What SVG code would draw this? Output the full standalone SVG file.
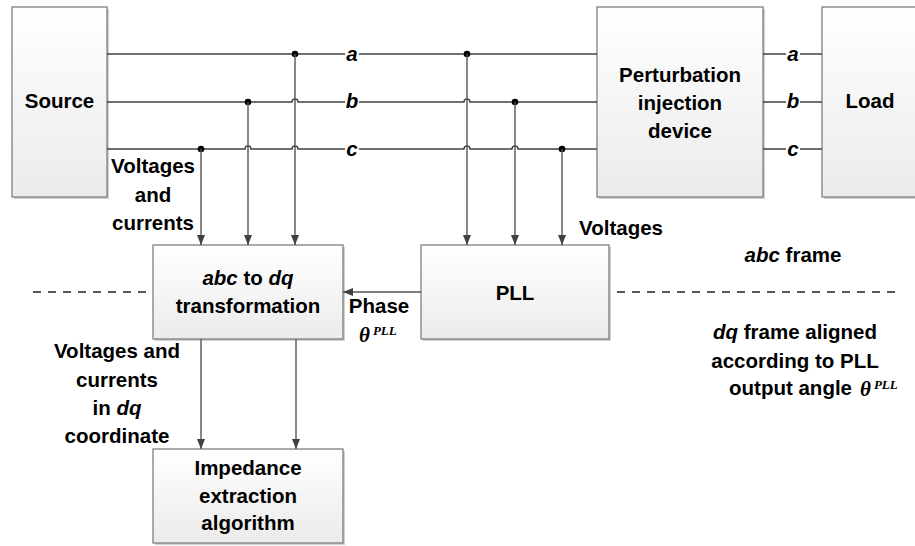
<svg xmlns="http://www.w3.org/2000/svg" width="915" height="546" viewBox="0 0 915 546">
<defs>
<linearGradient id="g" x1="0" y1="0" x2="0" y2="1">
<stop offset="0" stop-color="#ffffff"/>
<stop offset="1" stop-color="#ebebeb"/>
</linearGradient>
<marker id="arr" viewBox="0 0 10 8" refX="10" refY="4" markerWidth="10" markerHeight="8" markerUnits="userSpaceOnUse" orient="auto">
<path d="M0,0 L10,4 L0,8 Z" fill="#404040"/>
</marker>
</defs>
<style>
.box{fill:url(#g);stroke:#7f7f7f;stroke-width:1.3}
.sh{fill:#d0d0d0}
.t{font-family:"Liberation Sans",Arial,sans-serif;font-weight:bold;font-size:20.5px;fill:#000;text-anchor:middle}
.i{font-style:italic}
.w{fill:none;stroke:#404040;stroke-width:1.4}
.ar{fill:none;stroke:#555;stroke-width:1.4;marker-end:url(#arr)}
.d{fill:#000}
.th{font-family:"Liberation Serif","Times New Roman",serif;font-style:italic;font-weight:bold;fill:#000}
.dash{fill:none;stroke:#222;stroke-width:1.3;stroke-dasharray:8,7}
</style>

<g id="frame-divider">
<line class="dash" x1="33" y1="292" x2="153" y2="292"/>
<line class="dash" x1="617" y1="292" x2="897" y2="292"/>
</g>

<g id="source">
<rect class="sh" x="14" y="9" width="95" height="190"/>
<rect class="box" x="12" y="7" width="95" height="190"/>
<text class="t" x="59.5" y="108">Source</text>
</g>

<g id="perturbation">
<rect class="sh" x="599" y="9" width="166" height="190"/>
<rect class="box" x="597" y="7" width="166" height="190"/>
<text class="t" x="680" y="82">Perturbation</text>
<text class="t" x="680" y="110">injection</text>
<text class="t" x="680" y="138">device</text>
</g>

<g id="load">
<rect class="sh" x="824" y="9" width="110" height="190"/>
<rect class="box" x="822" y="7" width="110" height="190"/>
<text class="t" x="870" y="108">Load</text>
</g>

<g id="abc2dq">
<rect class="sh" x="155" y="247" width="190" height="94"/>
<rect class="box" x="153" y="245" width="190" height="94"/>
<text class="t" x="248" y="285"><tspan class="i">abc</tspan> to <tspan class="i">dq</tspan></text>
<text class="t" x="248" y="313">transformation</text>
</g>

<g id="pll">
<rect class="sh" x="423" y="247" width="188" height="94"/>
<rect class="box" x="421" y="245" width="188" height="94"/>
<text class="t" x="515" y="300">PLL</text>
</g>

<g id="impedance">
<rect class="sh" x="155" y="451" width="190" height="94"/>
<rect class="box" x="153" y="449" width="190" height="94"/>
<text class="t" x="248" y="475">Impedance</text>
<text class="t" x="248" y="503">extraction</text>
<text class="t" x="248" y="530">algorithm</text>
</g>

<g id="connectors">
<path class="w" d="M107,54 H597"/>
<path class="w" d="M107,102 H292 A3,3 0 0 1 298,102 H464 A3,3 0 0 1 470,102 H597"/>
<path class="w" d="M107,149 H245 A3,3 0 0 1 251,149 H292 A3,3 0 0 1 298,149 H464 A3,3 0 0 1 470,149 H512 A3,3 0 0 1 518,149 H597"/>
<path class="w" d="M763,54 H822 M763,102 H822 M763,149 H822"/>
<circle class="d" cx="295" cy="54" r="3.3"/>
<circle class="d" cx="248" cy="102" r="3.3"/>
<circle class="d" cx="201" cy="149" r="3.3"/>
<circle class="d" cx="467" cy="54" r="3.3"/>
<circle class="d" cx="515" cy="102" r="3.3"/>
<circle class="d" cx="562" cy="149" r="3.3"/>
<line class="ar" x1="295" y1="54" x2="295" y2="245"/>
<line class="ar" x1="248" y1="102" x2="248" y2="245"/>
<line class="ar" x1="201" y1="149" x2="201" y2="245"/>
<line class="ar" x1="467" y1="54" x2="467" y2="245"/>
<line class="ar" x1="515" y1="102" x2="515" y2="245"/>
<line class="ar" x1="562" y1="149" x2="562" y2="245"/>
<line class="ar" x1="421" y1="292" x2="343" y2="292"/>
<line class="ar" x1="201" y1="339" x2="201" y2="449"/>
<line class="ar" x1="296" y1="339" x2="296" y2="449"/>
<rect x="345" y="44" width="14" height="20" fill="#fff"/>
<rect x="345" y="92" width="14" height="20" fill="#fff"/>
<rect x="345" y="139" width="14" height="20" fill="#fff"/>
<rect x="786" y="44" width="14" height="20" fill="#fff"/>
<rect x="786" y="92" width="14" height="20" fill="#fff"/>
<rect x="786" y="139" width="14" height="20" fill="#fff"/>
<text class="t i" x="352" y="61">a</text>
<text class="t i" x="352" y="108">b</text>
<text class="t i" x="352" y="156">c</text>
<text class="t i" x="793" y="61">a</text>
<text class="t i" x="793" y="108">b</text>
<text class="t i" x="793" y="156">c</text>
</g>

<g id="labels">
<text class="t" x="153" y="173">Voltages</text>
<text class="t" x="153" y="202">and</text>
<text class="t" x="153" y="230">currents</text>
<text class="t" x="621" y="235">Voltages</text>
<text class="t" x="379" y="313">Phase</text>
<text x="359" y="342" class="th" font-size="21">θ<tspan font-size="13" dy="-7" dx="3">PLL</tspan></text>
<text class="t" x="793" y="262"><tspan class="i">abc</tspan> frame</text>
<text class="t" x="795" y="339"><tspan class="i">dq</tspan> frame aligned</text>
<text class="t" x="795" y="368">according to PLL</text>
<text class="t" x="852" y="395" style="text-anchor:end">output angle</text>
<text x="860" y="396" class="th" font-size="21">θ<tspan font-size="13" dy="-7" dx="3">PLL</tspan></text>
<text class="t" x="117" y="358">Voltages and</text>
<text class="t" x="117" y="387">currents</text>
<text class="t" x="117" y="415">in <tspan class="i">dq</tspan></text>
<text class="t" x="117" y="443">coordinate</text>
</g>
</svg>
